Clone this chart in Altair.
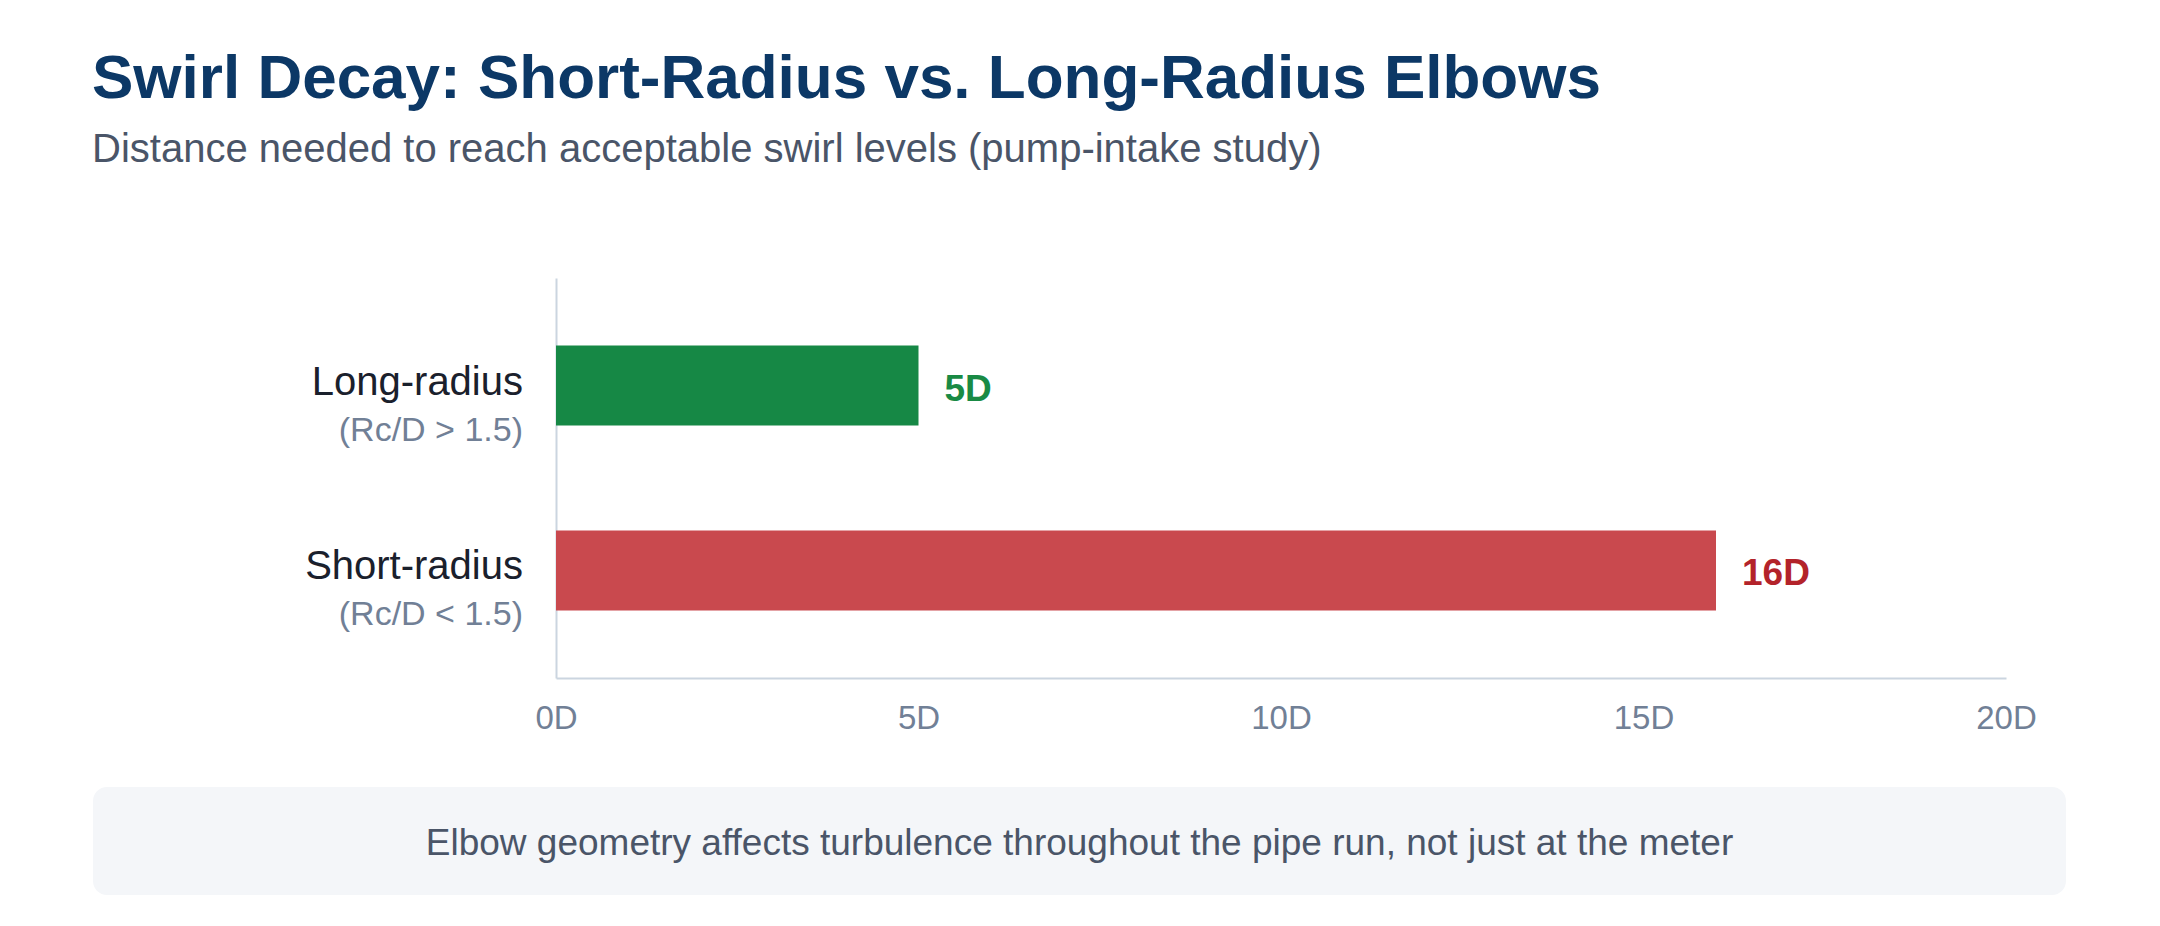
import altair as alt
import pandas as pd

# elbow types, their geometry notes and the straight-run distance (in pipe diameters)
categories = ["Long-radius", "Short-radius"]
notes = ["(Rc/D > 1.5)", "(Rc/D < 1.5)"]
distances = [5, 16]
x_ticks = [0, 5, 10, 15, 20]

bar_colors = ["#168845", "#c9494e"]
text_colors = ["#198a44", "#b3232a"]

FONT = "Liberation Sans"

df = pd.DataFrame({"Elbow": categories, "Note": notes, "Distance": distances})
df["Label"] = [f"{d}D" for d in distances]

y_enc = alt.Y("Elbow:N", sort=categories, axis=alt.Axis(labels=False, ticks=False, title=None,
                                                        domainColor="#cbd5e0", domainWidth=2),
              scale=alt.Scale(paddingInner=0.5676, paddingOuter=0.365))

bars = alt.Chart(df).mark_bar().encode(
    x=alt.X("Distance:Q", title=None,
            scale=alt.Scale(domain=[0, 20], nice=False),
            axis=alt.Axis(values=x_ticks, labelExpr="datum.value + 'D'", grid=False, ticks=False,
                          tickSize=0, labelPadding=24, labelFontSize=33, labelColor="#718096",
                          labelFont=FONT, labelFlush=False, domainColor="#cbd5e0", domainWidth=2)),
    y=y_enc,
    color=alt.Color("Elbow:N", scale=alt.Scale(domain=categories, range=bar_colors), legend=None),
)

values = alt.Chart(df).mark_text(align="left", baseline="middle", dx=26, dy=4, fontSize=37,
                                 fontWeight="bold", font=FONT).encode(
    x="Distance:Q",
    y=alt.Y("Elbow:N", sort=categories),
    text="Label:N",
    color=alt.Color("Elbow:N", scale=alt.Scale(domain=categories, range=text_colors), legend=None),
)

names = alt.Chart(df).mark_text(align="right", baseline="alphabetic", dy=9, fontSize=40,
                                font=FONT, color="#1a202c").encode(
    x=alt.value(-33),
    y=alt.Y("Elbow:N", sort=categories),
    text="Elbow:N",
)

sub_names = alt.Chart(df).mark_text(align="right", baseline="alphabetic", dy=55, fontSize=34,
                                    font=FONT, color="#718096").encode(
    x=alt.value(-33),
    y=alt.Y("Elbow:N", sort=categories),
    text="Note:N",
)

# footer note in a rounded panel under the axis
footer_box = alt.Chart(pd.DataFrame({"n": [0]})).mark_rect(
    fill="#f4f6f9", cornerRadius=14
).encode(x=alt.value(-463), x2=alt.value(1510), y=alt.value(509), y2=alt.value(617))

footer_text = alt.Chart(pd.DataFrame({"t": ["Elbow geometry affects turbulence throughout the pipe run, not just at the meter"]})).mark_text(
    align="center", baseline="alphabetic", fontSize=37, font=FONT, color="#4a5568"
).encode(x=alt.value(523.5), y=alt.value(577), text="t:N")

chart = alt.layer(footer_box, bars, values, names, sub_names, footer_text).resolve_scale(
    color="independent"
).properties(
    width=1450,
    height=400,
    background="white",
    padding={"left": 548, "top": 270, "right": 146, "bottom": 240},
    autosize=alt.AutoSizeParams(type="none"),
    title=alt.TitleParams(
        "Swirl Decay: Short-Radius vs. Long-Radius Elbows",
        subtitle="Distance needed to reach acceptable swirl levels (pump-intake study)",
        anchor="start", frame="group", dx=-464, offset=107,
        font=FONT, fontSize=62, fontWeight="bold", color="#0c3866",
        subtitleFont=FONT, subtitleFontSize=40, subtitleColor="#4a5568", subtitlePadding=19,
    ),
).configure_view(stroke=None)

chart.save("out.html", embed_options={"renderer": "svg", "actions": False})
